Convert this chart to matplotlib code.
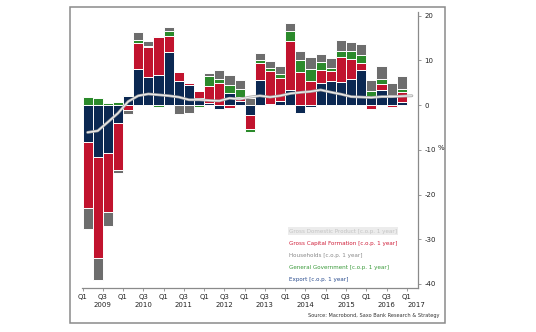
import matplotlib
matplotlib.use("Agg")
import matplotlib.pyplot as plt
import matplotlib.transforms as mtransforms
from matplotlib.patches import Rectangle
import numpy as np

# ---------------- data ----------------
quarters = ["Q1 2009", "Q2 2009", "Q3 2009", "Q4 2009",
            "Q1 2010", "Q2 2010", "Q3 2010", "Q4 2010",
            "Q1 2011", "Q2 2011", "Q3 2011", "Q4 2011",
            "Q1 2012", "Q2 2012", "Q3 2012", "Q4 2012",
            "Q1 2013", "Q2 2013", "Q3 2013", "Q4 2013",
            "Q1 2014", "Q2 2014", "Q3 2014", "Q4 2014",
            "Q1 2015", "Q2 2015", "Q3 2015", "Q4 2015",
            "Q1 2016", "Q2 2016", "Q3 2016", "Q4 2016"]

export = [-8.3, -11.7, -10.7, -4.0, 2.1, 8.05, 6.4, 6.8,
          11.85, 5.3, 4.5, 1.7, 0.45, -0.9, 2.8, 0.95,
          -2.3, 5.65, 0.2, 0.95, 3.3, -1.65, -0.45, 4.95,
          5.45, 5.1, 5.85, 7.8, 1.8, 3.45, 2.1, 0.8]
gross_capital = [-14.8, -22.5, -13.2, -10.5, -1.0, 5.95, 6.7, 8.4,
                 3.7, 2.2, 0.5, 1.5, 3.9, 4.9, -0.7, 0.85,
                 -3.0, 3.75, 7.5, 5.1, 11.1, 7.4, 5.45, 3.0,
                 2.25, 5.7, 4.5, 1.65, -0.9, 1.35, -0.45, 2.2]
government = [1.8, 1.6, 0.4, 0.8, 0.2, 0.6, 0.2, -0.4,
              1.1, 0.0, 0.0, -0.4, 2.2, 0.9, 1.7, 1.8,
              -0.75, 0.75, 0.5, 0.95, 2.1, 2.6, 2.6, 1.7,
              0.6, 1.25, 1.7, 1.7, 1.4, 1.05, 0.1, 0.6]
households = [-4.6, -5.0, -3.2, -0.6, -1.0, 1.85, 1.15, 0.3,
              0.75, -1.95, -1.65, 0.0, 0.75, 2.1, 2.2, 2.1,
              1.7, 1.5, 1.6, 1.65, 1.9, 2.0, 2.7, 1.9,
              2.25, 2.5, 2.1, 2.6, 2.5, 3.0, 2.7, 2.85]
# GDP has one extra quarter (Q1 2017)
gdp = [-6.1, -5.75, -3.8, -1.8, 0.8, 2.1, 2.5, 2.3,
       2.1, 1.8, 1.2, 1.2, 1.05, 0.95, 1.55, 1.35,
       1.8, 2.1, 1.8, 2.1, 2.6, 2.85, 3.05, 3.4,
       2.9, 2.45, 1.9, 1.8, 1.7, 1.9, 1.9, 2.0, 2.1]

tick_labels = ["Q1", "Q3"] * 8 + ["Q1"]
year_labels = ["2009", "2010", "2011", "2012", "2013", "2014", "2015", "2016", "2017"]

legend_labels = ["Gross Domestic Product [c.o.p. 1 year]",
                 "Gross Capital Formation [c.o.p. 1 year]",
                 "Households [c.o.p. 1 year]",
                 "General Government [c.o.p. 1 year]",
                 "Export [c.o.p. 1 year]"]

# ---------------- styling ----------------
NAVY = "#0b2852"
RED = "#c1132e"
GREEN = "#2b8a2b"
GRAY = "#6d6d6d"

W, H = 536, 332
fig = plt.figure(figsize=(W / 100, H / 100), dpi=100)
fig.patch.set_facecolor("white")

# outer frame
frame = Rectangle((70 / W, (H - 323) / H), (445 - 70) / W, (323 - 7) / H,
                  transform=fig.transFigure, fill=False, edgecolor="#8a8a8a",
                  linewidth=1.1)
fig.patches.append(frame)

ax_l, ax_r, ax_b, ax_t = 82.3, 418, 288, 11.7
ax = fig.add_axes([ax_l / W, (H - ax_b) / H, (ax_r - ax_l) / W, (ax_b - ax_t) / H])
ax.set_facecolor("none")

n = len(export)
x = np.arange(n) + 0.5
series = [(export, NAVY), (gross_capital, RED), (government, GREEN), (households, GRAY)]
pos = np.zeros(n)
neg = np.zeros(n)
for vals, col in series:
    v = np.array(vals, dtype=float)
    bottoms = np.where(v >= 0, pos, neg)
    ax.bar(x, v, width=1.0, bottom=bottoms, color=col, edgecolor="white",
           linewidth=0.7, zorder=2)
    pos = pos + np.where(v >= 0, v, 0)
    neg = neg + np.where(v < 0, v, 0)

xg = np.arange(len(gdp)) + 0.5
ax.plot(xg, gdp, color="#a8a8a8", linewidth=2.0, zorder=3, solid_capstyle="round")
ax.plot(xg, gdp, color="#ececec", linewidth=0.9, zorder=4, solid_capstyle="round")

ax.set_xlim(-0.02, 33.1)
ax.set_ylim(-40.9, 20.9)

for s in ["left", "top"]:
    ax.spines[s].set_visible(False)
for s in ["right", "bottom"]:
    ax.spines[s].set_color("#8a8a8a")
    ax.spines[s].set_linewidth(0.9)

ax.yaxis.tick_right()
ax.set_yticks([20, 10, 0, -10, -20, -30, -40])
ax.set_yticklabels(["20", "10", "0", "-10", "-20", "-30", "-40"])
ax.tick_params(axis="y", direction="out", length=2.5, width=0.6, colors="#8a8a8a",
               labelcolor="#222222", labelsize=5, pad=2)

ax.set_xticks(np.arange(0, 33, 2))
ax.set_xticklabels(tick_labels)
ax.tick_params(axis="x", direction="out", length=2.5, width=0.6, colors="#8a8a8a",
               labelcolor="#222222", labelsize=5, pad=1.5)

trans = mtransforms.blended_transform_factory(ax.transData, fig.transFigure)
year_pos = list(np.arange(2, 31, 4)) + [32.9]
for xp, yl in zip(year_pos, year_labels):
    ax.text(xp, (H - 305) / H, yl, transform=trans, ha="center", va="center",
            fontsize=5, color="#222222")

# unit label
fig.text(441 / W, (H - 148) / H, "%", fontsize=5, color="#222222", ha="center", va="center")

# legend text
leg_colors = ["#c4c4c4", "#d01f3a", "#8a8a8a", "#3a9a3a", "#2a4c8e"]
leg_y = [231, 243.3, 255.7, 268, 279]
for i, (lab, c, yy) in enumerate(zip(legend_labels, leg_colors, leg_y)):
    kw = {}
    if i == 0:
        kw["bbox"] = dict(boxstyle="square,pad=0.25", facecolor="#ececec", edgecolor="none")
    fig.text(289 / W, (H - yy) / H, lab, fontsize=4.1, color=c, ha="left",
             va="center", **kw)

fig.text(440 / W, (H - 315) / H, "Source: Macrobond, Saxo Bank Research & Strategy",
         fontsize=3.6, color="#333333", ha="right", va="center")

fig.savefig("out.png", dpi=100, facecolor="white")
